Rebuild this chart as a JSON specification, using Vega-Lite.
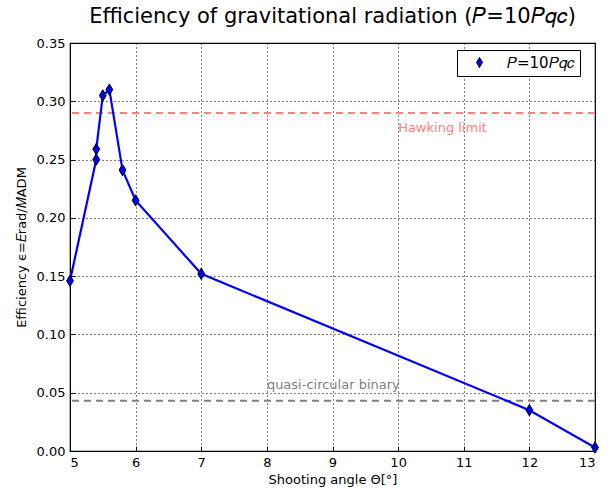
{
  "$schema": "https://vega.github.io/schema/vega-lite/v6.json",
  "width": 525,
  "height": 408,
  "autosize": {"type": "none"},
  "padding": {"left": 70, "top": 43, "right": 18, "bottom": 38},
  "background": "white",
  "title": {"text": "Efficiency of gravitational radiation (𝑃=10𝑃𝑞𝑐)", "font": "DejaVu Sans", "fontSize": 21, "fontWeight": "normal", "color": "black", "offset": 10},
  "config": {
    "font": "DejaVu Sans",
    "view": {"stroke": "black", "strokeWidth": 1.2},
    "axis": {"labelFont": "DejaVu Sans", "labelFontSize": 13, "labelColor": "black", "titleFont": "DejaVu Sans", "titleFontSize": 13, "titleFontWeight": "normal", "titleColor": "black", "domainColor": "black", "tickColor": "black", "tickSize": -5, "gridColor": "black", "gridDash": [1, 3], "gridOpacity": 1, "gridWidth": 1, "labelPadding": 10}
  },
  "datasets": {
    "pts": [
      {"i": 0, "theta": 5.0, "eff": 0.146, "series": "𝑃=10𝑃𝑞𝑐"},
      {"i": 1, "theta": 5.4, "eff": 0.250, "series": "𝑃=10𝑃𝑞𝑐"},
      {"i": 2, "theta": 5.4, "eff": 0.259, "series": "𝑃=10𝑃𝑞𝑐"},
      {"i": 3, "theta": 5.5, "eff": 0.305, "series": "𝑃=10𝑃𝑞𝑐"},
      {"i": 4, "theta": 5.6, "eff": 0.310, "series": "𝑃=10𝑃𝑞𝑐"},
      {"i": 5, "theta": 5.8, "eff": 0.241, "series": "𝑃=10𝑃𝑞𝑐"},
      {"i": 6, "theta": 6.0, "eff": 0.215, "series": "𝑃=10𝑃𝑞𝑐"},
      {"i": 7, "theta": 7.0, "eff": 0.152, "series": "𝑃=10𝑃𝑞𝑐"},
      {"i": 8, "theta": 12.0, "eff": 0.035, "series": "𝑃=10𝑃𝑞𝑐"},
      {"i": 9, "theta": 13.0, "eff": 0.003, "series": "𝑃=10𝑃𝑞𝑐"}
    ],
    "refs": [
      {"name": "Hawking limit", "eff": 0.29, "lx": 10.0, "ly": 0.277, "col": "#ff8080"},
      {"name": "quasi-circular binary", "eff": 0.043, "lx": 8.0, "ly": 0.0565, "col": "#808080"}
    ]
  },
  "layer": [
    {
      "data": {"name": "refs"},
      "mark": {"type": "rule", "strokeWidth": 2, "strokeDash": [7, 5]},
      "encoding": {
        "y": {"field": "eff", "type": "quantitative", "scale": {"domain": [0, 0.35], "nice": false}},
        "color": {"field": "col", "type": "nominal", "scale": null}
      }
    },
    {
      "data": {"name": "refs"},
      "mark": {"type": "text", "align": "left", "baseline": "middle", "fontSize": 13, "font": "DejaVu Sans"},
      "encoding": {
        "x": {"field": "lx", "type": "quantitative", "scale": {"domain": [5, 13], "nice": false, "zero": false}},
        "y": {"field": "ly", "type": "quantitative", "scale": {"domain": [0, 0.35], "nice": false}},
        "text": {"field": "name"},
        "color": {"field": "col", "type": "nominal", "scale": null}
      }
    },
    {
      "data": {"name": "pts"},
      "mark": {"type": "line", "color": "#0000ff", "strokeWidth": 2.2, "clip": true},
      "encoding": {
        "x": {"field": "theta", "type": "quantitative", "scale": {"domain": [5, 13], "nice": false, "zero": false},
              "axis": {"title": "Shooting angle Θ[°]", "values": [5,6,7,8,9,10,11,12,13], "format": "d", "grid": true, "titlePadding": 4}},
        "y": {"field": "eff", "type": "quantitative", "scale": {"domain": [0, 0.35], "nice": false},
              "axis": {"title": "Efficiency ϵ=𝐸rad/𝑀ADM", "values": [0, 0.05, 0.1, 0.15, 0.2, 0.25, 0.3, 0.35], "format": ".2f", "grid": true, "titlePadding": 8}},
        "order": {"field": "i", "type": "quantitative"}
      }
    },
    {
      "data": {"name": "pts"},
      "mark": {"type": "point", "filled": true, "stroke": "black", "strokeWidth": 1, "size": 130, "opacity": 1, "clip": false},
      "encoding": {
        "x": {"field": "theta", "type": "quantitative", "scale": {"domain": [5, 13], "nice": false, "zero": false}},
        "y": {"field": "eff", "type": "quantitative"},
        "shape": {"value": "M0,-1L0.6,0L0,1L-0.6,0Z"},
        "fill": {"field": "series", "type": "nominal", "scale": {"range": ["#0000ff"]},
                 "legend": {"title": null, "orient": "none", "legendX": 387, "legendY": 7, "strokeColor": "black", "fillColor": "white", "padding": 5, "symbolType": "M0,-1L0.6,0L0,1L-0.6,0Z", "symbolSize": 100, "symbolStrokeColor": "black", "symbolStrokeWidth": 1, "labelFont": "DejaVu Sans", "labelFontSize": 15, "labelColor": "black", "symbolOffset": 10, "labelOffset": 20}}
      }
    }
  ]
}
